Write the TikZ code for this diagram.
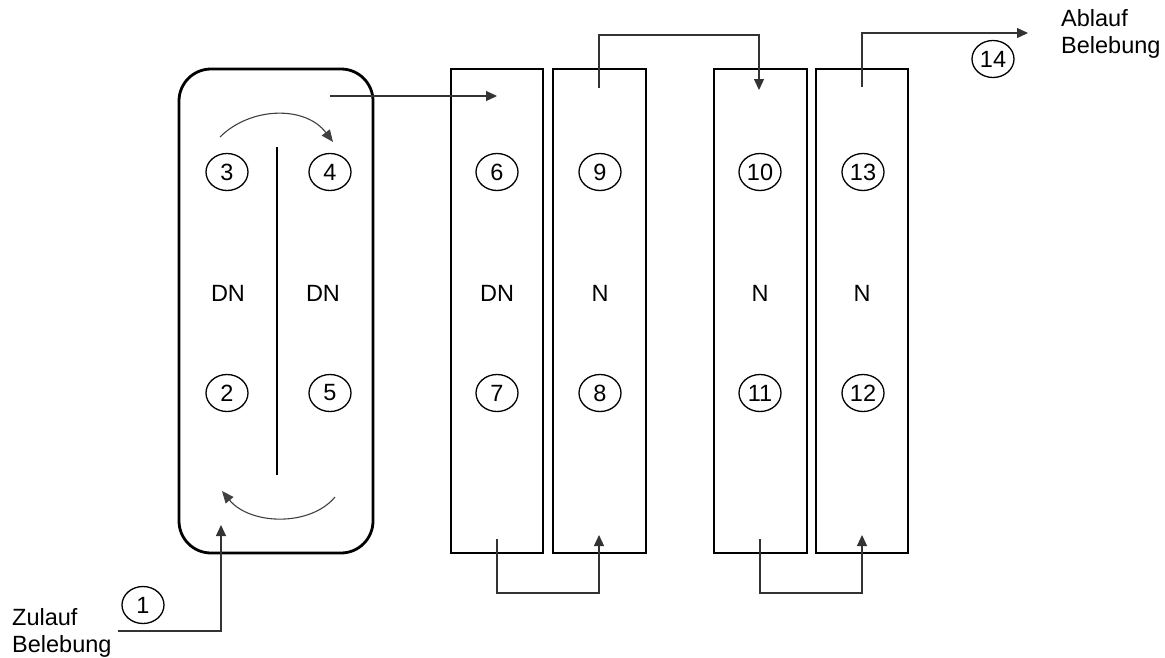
\documentclass[tikz,border=0pt]{standalone}
\usepackage{fontspec}
\setmainfont{Liberation Sans}
\usetikzlibrary{shapes.geometric,arrows.meta}
\begin{document}
\begin{tikzpicture}[x=1pt,y=-1pt,
  font=\fontsize{23.5}{27}\selectfont,
  tank/.style={draw,line width=2.8pt,minimum width=#1,minimum height=484pt,inner sep=0pt},
  num/.style={draw,ellipse,line width=1.3pt,minimum width=42pt,minimum height=37pt,inner sep=0pt},
  lab/.style={inner sep=0pt},
  conn/.style={draw=black!80,line width=1.2pt,-{Triangle[length=11pt,width=10pt]}},
  flow/.style={draw=black!75,line width=1.1pt,-{Triangle[length=12pt,width=10pt]}}]
\useasboundingbox (0,0) rectangle (1165,657);
% tanks
\node[tank=194pt,rounded corners=32pt] (pre) at (276,311) {};
\node[tank=92pt] (t6) at (497,311) {};
\node[tank=93pt] (t9) at (599.5,311) {};
\node[tank=93pt] (t10) at (760.5,311) {};
\node[tank=92pt] (t13) at (862,311) {};
% divider
\coordinate (dtop) at (277,147);
\coordinate (dbot) at (277,475);
\draw[line width=2.8pt] (dtop) -- (dbot);
% numbers
\node[num] (n3) at (227,172) {3};
\node[num] (n4) at (330,172) {4};
\node[num] (n6) at (497,172) {6};
\node[num] (n9) at (600,172) {9};
\node[num] (n10) at (760,172) {10};
\node[num] (n13) at (863,172) {13};
\node[num] (n2) at (227,393) {2};
\node[num] (n5) at (330,393) {5};
\node[num] (n7) at (497,393) {7};
\node[num] (n8) at (600,393) {8};
\node[num] (n11) at (760,393) {11};
\node[num] (n12) at (863,393) {12};
\node[num] (n1) at (143,605) {1};
\node[num] (n14) at (993,59) {14};
% zone labels
\node[lab] (z1) at (228,293) {DN};
\node[lab] (z2) at (323,293) {DN};
\node[lab] (z3) at (497,293) {DN};
\node[lab] (z4) at (600,293) {N};
\node[lab] (z5) at (760,293) {N};
\node[lab] (z6) at (862,293) {N};
% in/out texts
\node[lab,align=left,anchor=north west] (zul) at (12,608) {Zulauf\\Belebung};
\node[lab,align=left,anchor=north west] (abl) at (1061,9) {Ablauf\\Belebung};
% circulation arcs
\coordinate (a1s) at (220,137);
\coordinate (a1e) at (333,142);
\coordinate (a2s) at (335,497);
\coordinate (a2e) at (222,491);
\draw[flow] (a1s) .. controls (250,107) and (305,105) .. (a1e);
\draw[flow] (a2s) .. controls (310,527) and (250,525) .. (a2e);
% connectors
\coordinate (zin) at (118,631);
\coordinate (zt) at (221,525);
\draw[conn] (zin) -| (zt);
\coordinate (o1) at (330,96);
\coordinate (i1) at (497,96);
\draw[conn] (o1) -- (i1);
\coordinate (b1s) at (497,539);
\coordinate (b1e) at (599,535);
\draw[conn] (b1s) -- ++(0,54) -| (b1e);
\coordinate (t1s) at (599,88);
\coordinate (t1e) at (759,90);
\draw[conn] (t1s) -- ++(0,-53) -| (t1e);
\coordinate (b2s) at (760,539);
\coordinate (b2e) at (862,535);
\draw[conn] (b2s) -- ++(0,54) -| (b2e);
\coordinate (outs) at (862,87);
\coordinate (oute) at (1028,33);
\draw[conn] (outs) |- (oute);
\end{tikzpicture}
\end{document}
